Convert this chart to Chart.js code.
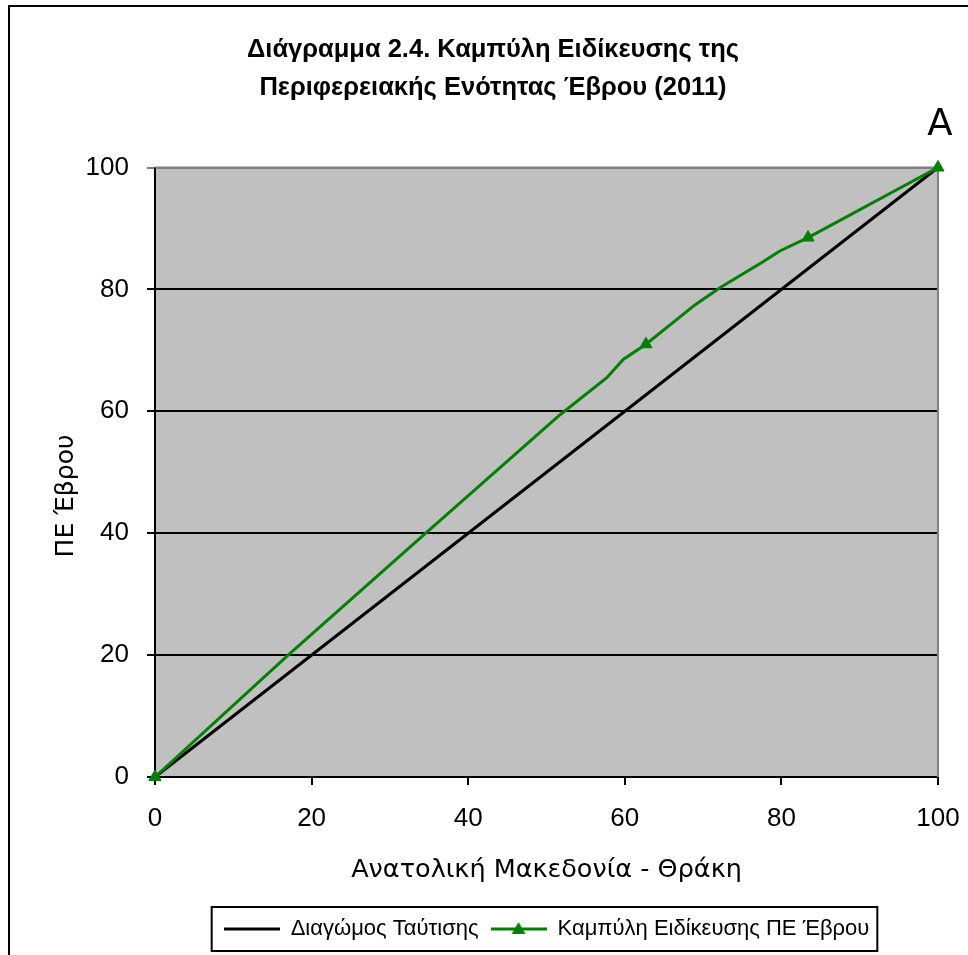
<!DOCTYPE html>
<html>
<head>
<meta charset="utf-8">
<script src="https://cdn.jsdelivr.net/npm/chart.js@4.4.1/dist/chart.umd.min.js"></script>
<style>
  html, body { margin: 0; padding: 0; background: #fff; }
  #wrap { width: 968px; height: 955px; }
</style>
</head>
<body>
<div id="wrap"><canvas id="chart" width="968" height="955"></canvas></div>
<script>
// dane
const titleLines = ['Διάγραμμα 2.4. Καμπύλη Ειδίκευσης της', 'Περιφερειακής Ενότητας Έβρου (2011)'];
const xTitle = 'Ανατολική Μακεδονία - Θράκη';
const yTitle = 'ΠΕ Έβρου';
const seriesNames = ['Διαγώμος Ταύτισης', 'Καμπύλη Ειδίκευσης ΠΕ Έβρου'];

const diagX = [0, 100];
const diagY = [0, 100];

const curveX = [0, 17, 34.4, 51.7, 57.7, 59.8, 62.7, 69, 72.2, 77.5, 79.8, 83.4, 100];
const curveY = [0, 20, 39.8, 59.4, 65.5, 68.5, 71.0, 77.5, 80.3, 84.4, 86.3, 88.5, 100];
const markerIdx = [0, 6, 11, 12];

const GREEN = '#008000';
Chart.defaults.color = '#000';

// ikonki do legendy (linia / linia z trojkatem)
function legendIcon(withTriangle) {
  const c = document.createElement('canvas');
  c.width = 56; c.height = 16;
  const g = c.getContext('2d');
  g.strokeStyle = withTriangle ? GREEN : '#000';
  g.lineWidth = 3;
  g.beginPath(); g.moveTo(0, 8); g.lineTo(56, 8); g.stroke();
  if (withTriangle) {
    g.fillStyle = GREEN;
    g.beginPath(); g.moveTo(28, 1); g.lineTo(35, 13); g.lineTo(21, 13); g.closePath(); g.fill();
  }
  return c;
}
const icons = [legendIcon(false), legendIcon(true)];

const framePlugin = {
  id: 'frame',
  beforeDraw(chart) {
    const ctx = chart.ctx, a = chart.chartArea;
    ctx.save();
    ctx.fillStyle = '#fff';
    ctx.fillRect(0, 0, chart.width, chart.height);
    ctx.fillStyle = '#c0c0c0';
    ctx.fillRect(a.left, a.top, a.right - a.left, a.bottom - a.top);
    ctx.strokeStyle = '#000';
    ctx.lineWidth = 2;
    ctx.beginPath();
    ctx.moveTo(9, chart.height); ctx.lineTo(9, 6); ctx.lineTo(chart.width, 6);
    ctx.stroke();
    ctx.restore();
  },
  beforeDatasetsDraw(chart) {
    const ctx = chart.ctx, a = chart.chartArea;
    ctx.save();
    ctx.strokeStyle = '#808080';
    ctx.lineWidth = 2;
    ctx.beginPath();
    ctx.moveTo(a.left, a.top); ctx.lineTo(a.right, a.top); ctx.lineTo(a.right, a.bottom);
    ctx.stroke();
    ctx.restore();
  },
  afterLayout(chart) {
    // tytul przesuniety lekko w prawo jak w oryginale
    chart.titleBlock.left = 48;
    chart.titleBlock.right = 938;
  },
  afterDraw(chart) {
    const ctx = chart.ctx;
    ctx.save();
    // ramka legendy
    const hb = chart.legend.legendHitBoxes;
    if (hb && hb.length) {
      const l = Math.min(...hb.map(h => h.left)) - 12;
      const r = Math.max(...hb.map(h => h.left + h.width)) + 8;
      const t = hb[0].top - 11;
      const b = hb[0].top + hb[0].height + 11;
      ctx.strokeStyle = '#000';
      ctx.lineWidth = 2;
      ctx.strokeRect(l, t, r - l, b - t);
    }
    // tytul osi Y
    ctx.fillStyle = '#000';
    ctx.font = '25px "DejaVu Sans"';
    ctx.textAlign = 'center';
    ctx.textBaseline = 'middle';
    ctx.translate(66, 496);
    ctx.rotate(-Math.PI / 2);
    ctx.fillText(yTitle, 0, 0);
    ctx.setTransform(1, 0, 0, 1, 0, 0);
    // etykieta A
    ctx.font = '37px "DejaVu Sans"';
    ctx.fillText('A', 940, 125);
    ctx.restore();
  }
};

new Chart(document.getElementById('chart').getContext('2d'), {
  type: 'line',
  data: {
    datasets: [
      {
        label: seriesNames[0],
        data: diagX.map((x, i) => ({ x, y: diagY[i] })),
        borderColor: '#000',
        borderWidth: 3,
        pointRadius: 0,
        clip: false,
        order: 1
      },
      {
        label: seriesNames[1],
        data: curveX.map((x, i) => ({ x, y: curveY[i] })),
        borderColor: GREEN,
        backgroundColor: GREEN,
        borderWidth: 3,
        pointStyle: 'triangle',
        pointRadius: curveX.map((_, i) => markerIdx.includes(i) ? 7 : 0),
        pointBorderWidth: 1,
        clip: false,
        order: 0
      }
    ]
  },
  options: {
    responsive: false,
    animation: false,
    devicePixelRatio: 1,
    layout: { padding: { left: 0, right: 30, top: 0, bottom: 5 } },
    plugins: {
      tooltip: { enabled: false },
      title: {
        display: true,
        text: titleLines,
        font: { family: '"Liberation Sans", Arial', size: 25.5, weight: 'bold', lineHeight: 1.5 },
        padding: { top: 31, bottom: 60 }
      },
      legend: {
        position: 'bottom',
        fullSize: false,
        labels: {
          usePointStyle: true,
          pointStyleWidth: 56,
          padding: 12,
          font: { family: '"Liberation Sans", Arial', size: 22 },
          generateLabels: () => seriesNames.map((t, i) => ({
            text: t,
            pointStyle: icons[i],
            fillStyle: 'transparent',
            strokeStyle: 'transparent',
            lineWidth: 0,
            datasetIndex: i
          }))
        }
      }
    },
    scales: {
      x: {
        type: 'linear',
        min: 0, max: 100,
        ticks: { stepSize: 20, padding: 0, font: { family: '"Liberation Sans", Arial', size: 26, lineHeight: 2.6 } },
        grid: { drawOnChartArea: false, color: '#000', tickLength: 8, lineWidth: 2 },
        border: { color: '#000', width: 2 },
        title: {
          display: true, text: xTitle,
          font: { family: '"DejaVu Sans"', size: 25.5 },
          padding: { top: 0, bottom: 20 }
        },
        afterFit: s => { s.height = 129; }
      },
      y: {
        type: 'linear',
        min: 0, max: 100,
        ticks: { stepSize: 20, padding: 18, font: { family: '"Liberation Sans", Arial', size: 26 } },
        grid: {
          color: c => c.tick && c.tick.value === 100 ? '#808080' : '#000',
          tickLength: 8, lineWidth: 2
        },
        border: { color: '#000', width: 2 },
        title: { display: false },
        afterFit: s => { s.width = 155; }
      }
    }
  },
  plugins: [framePlugin]
});
</script>
</body>
</html>
